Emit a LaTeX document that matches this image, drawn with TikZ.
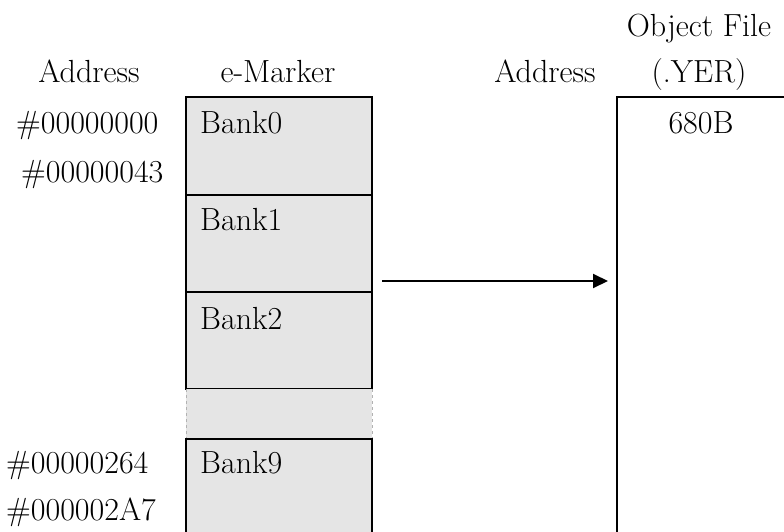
\documentclass[tikz,border=0pt]{standalone}
\usetikzlibrary{arrows.meta,calc}
\begin{document}
\begin{tikzpicture}[x=1pt,y=-1pt,
  lbl/.style={inner sep=0pt,font=\fontsize{32}{34}\selectfont},
  bankbox/.style={draw,line width=2pt,fill=gray!20,minimum width=186pt,inner sep=0pt,outer sep=0pt},
  gapbox/.style={fill=gray!20,minimum width=186pt,inner sep=0pt,outer sep=0pt},
  filebox/.style={draw,line width=2pt,fill=white,inner sep=0pt,outer sep=0pt},
  flow/.style={line width=2pt,-{Triangle[length=15pt,width=14pt]}}]
\useasboundingbox (0,0) rectangle (784,532);
\clip (0,0) rectangle (784,532);

% memory column of the e-Marker
\node[bankbox,minimum height=98pt] (bank0) at (279,146) {};
\node[bankbox,minimum height=97pt] (bank1) at (279,243.5) {};
\node[bankbox,minimum height=97pt] (bank2) at (279,340.5) {};
\node[gapbox,minimum height=50pt] (gap) at (279,414) {};
\draw[gray!60,line width=1pt,dashed] (gap.north west) -- (gap.south west);
\draw[gray!60,line width=1pt,dashed] (gap.north east) -- (gap.south east);
\node[bankbox,minimum height=140pt] (bank9) at (279,509) {};

% object file column
\node[filebox,minimum width=200pt,minimum height=480pt] (objfile) at (717,337) {};

% headers
\node[lbl,anchor=base] (hAddrL) at (89,83) {Address};
\node[lbl,anchor=base] (hMarker) at (278,83) {e-Marker};
\node[lbl,anchor=base] (hAddrR) at (545,83) {Address};
\node[lbl,anchor=base] (hObj) at (699,37) {Object File};
\node[lbl,anchor=base] (hYer) at (699,83) {(.YER)};

% bank labels
\node[lbl,anchor=base west] (tBank0) at (200,133) {Bank0};
\node[lbl,anchor=base west] (tBank1) at (200,230) {Bank1};
\node[lbl,anchor=base west] (tBank2) at (200,329) {Bank2};
\node[lbl,anchor=base west] (tBank9) at (200,473) {Bank9};

% addresses
\node[lbl,anchor=base west] (a0) at (16,133) {\#00000000};
\node[lbl,anchor=base west] (a1) at (21,182) {\#00000043};
\node[lbl,anchor=base west] (a2) at (6,473) {\#00000264};
\node[lbl,anchor=base west] (a3) at (6,520) {\#000002A7};

% size in the object file
\node[lbl,anchor=base] (size) at (701,133) {680B};

% transfer arrow
\coordinate (arrowy) at (0,281);
\draw[flow,shorten <=10pt,shorten >=9pt] (bank1.east |- arrowy) -- (objfile.west |- arrowy);
\end{tikzpicture}
\end{document}
